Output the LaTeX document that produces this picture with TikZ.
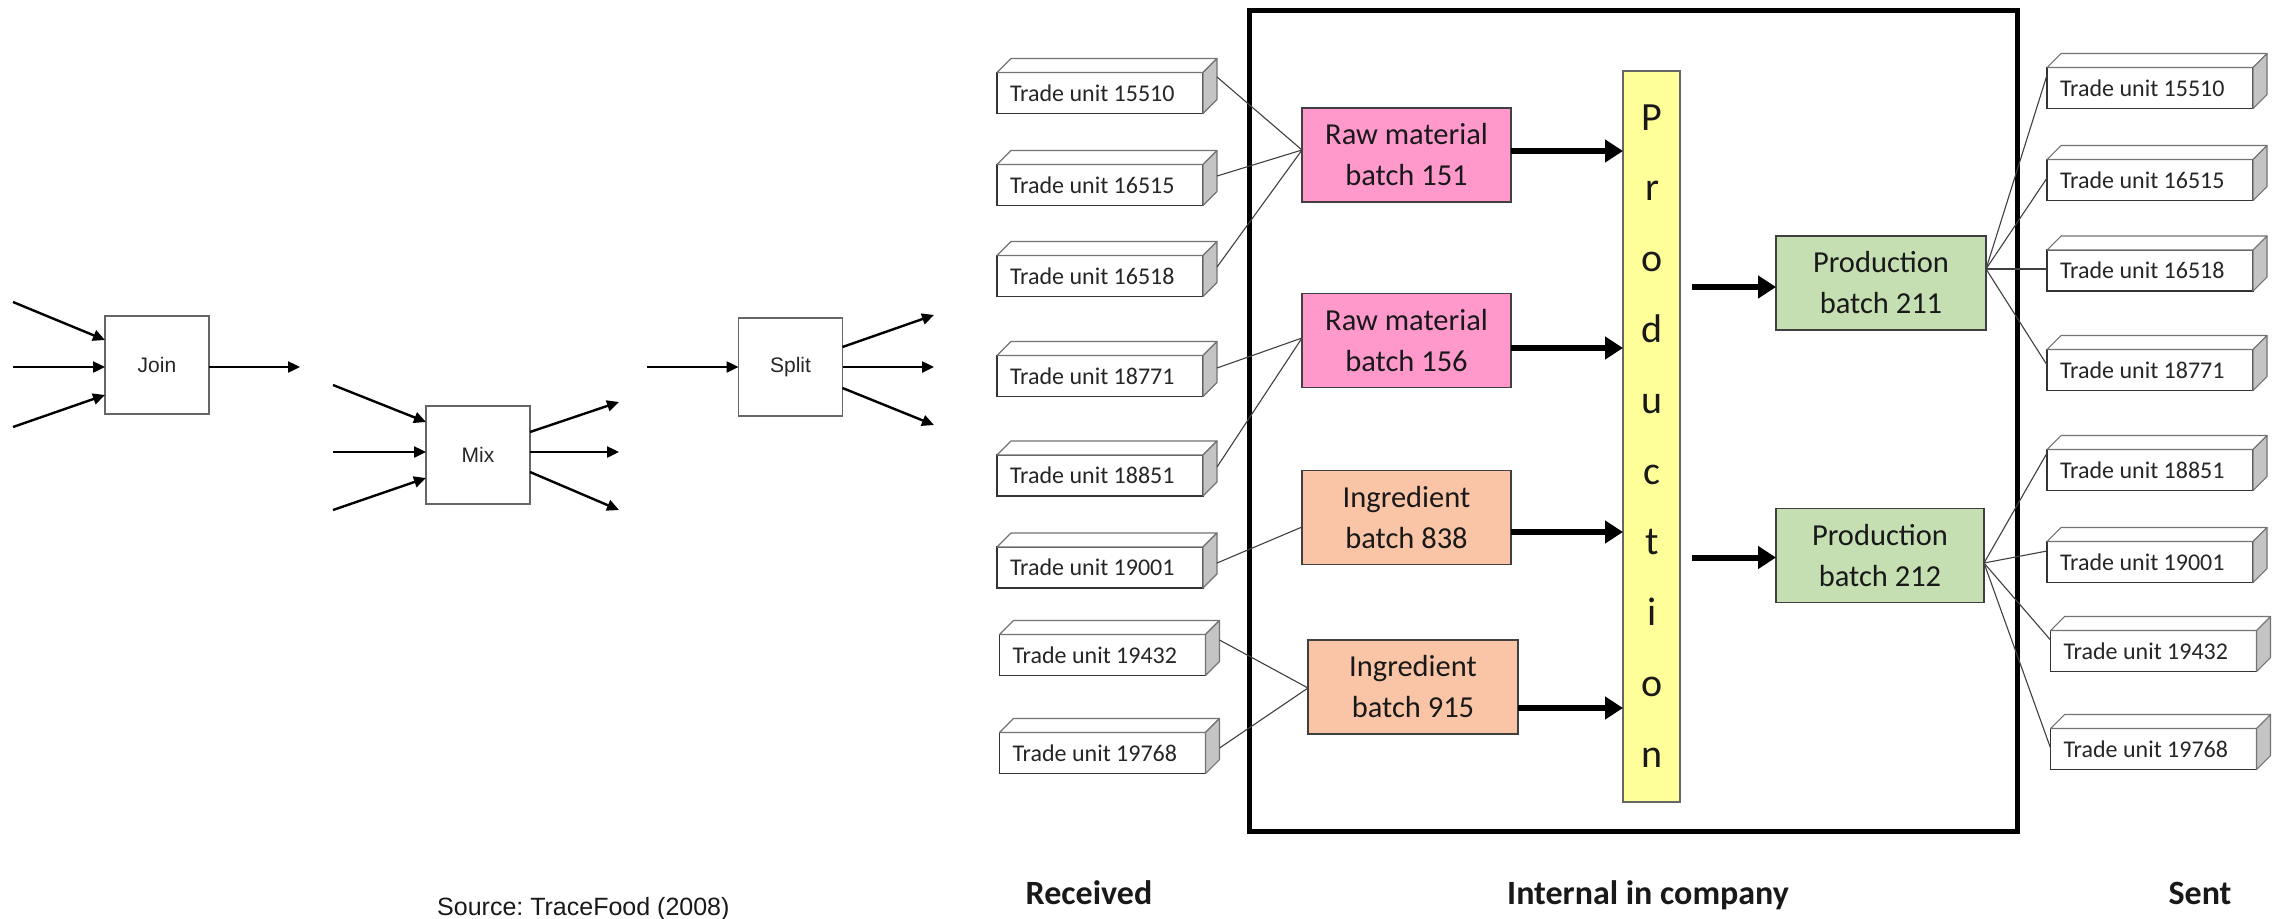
\documentclass[tikz,border=0pt]{standalone}
\usepackage{fontspec}
\setmainfont{Carlito}
\newfontfamily\arialf{Liberation Sans}
\usetikzlibrary{arrows.meta,calc}
\definecolor{pinkfill}{HTML}{FF99CC}
\definecolor{peachfill}{HTML}{F9C5A6}
\definecolor{greenfill}{HTML}{C5DFB2}
\definecolor{barfill}{HTML}{FFFF99}
\definecolor{sidegray}{HTML}{C4C4C4}
\frenchspacing
\newcommand\TUbox[4]{%
  \node[tubox] (#1) at (#2,#3) {\makebox[180pt][l]{Trade unit #4}};
  \draw[topface] (#1.north west) -- ++(14,-14) -- ++(206,0) -- (#1.north east) -- cycle;
  \draw[sideface] (#1.north east) -- ++(14,-14) -- ++(0,41) -- (#1.south east) -- cycle;
}
\begin{document}
\begin{tikzpicture}[x=1pt,y=-1pt,
  flowbox/.style={draw=black!60, line width=1.4pt, fill=white, minimum width=104pt, minimum height=98pt, inner sep=0pt, outer sep=0pt, font=\arialf\fontsize{21}{25}\selectfont, text=black!85},
  flowarrow/.style={line width=2.4pt, -{Triangle[length=12pt,width=11pt]}},
  tubox/.style={draw=black!80, line width=1.3pt, fill=white, minimum height=41pt, minimum width=206pt, inner sep=0pt, outer sep=0pt, font=\fontsize{24}{28}\selectfont, text=black!85},
  topface/.style={draw=black!55, line width=1.1pt, fill=white, line join=round},
  sideface/.style={topface, fill=sidegray},
  batch/.style={draw=black!75, line width=1.3pt, minimum width=209pt, minimum height=94pt, inner sep=0pt, outer sep=0pt, align=center, font=\fontsize{30.5}{41}\selectfont, text=black!90},
  tuline/.style={draw=black!75, line width=1.1pt},
  bigarrow/.style={line width=6pt, -{Triangle[length=18pt,width=22pt]}},
  barletter/.style={font=\fontsize{40}{46}\selectfont, inner sep=0pt, anchor=base, text=black!90},
  colhead/.style={font=\bfseries\fontsize{34}{40}\selectfont, anchor=base, inner sep=0pt, text=black!90}
]
\fill[white] (0,0) rectangle (2285,918);
\useasboundingbox (0,0) rectangle (2285,918);

% ---------- left: join / mix / split ----------
\node[flowbox] (join) at (157,365) {Join};
\node[flowbox] (mix) at (478,455) {Mix};
\node[flowbox] (split) at (790.5,367) {Split};

\coordinate (j1) at (13,302);
\coordinate (j2) at (13,367);
\coordinate (j3) at (13,427);
\coordinate (jo) at (300,367);
\draw[flowarrow] (j1) -- ([yshift=25pt]join.west);
\draw[flowarrow] (j2) -- ([yshift=-2pt]join.west);
\draw[flowarrow] (j3) -- ([yshift=-30pt]join.west);
\draw[flowarrow] ([yshift=-2pt]join.east) -- (jo);

\coordinate (m1) at (333,385);
\coordinate (m2) at (333,452);
\coordinate (m3) at (333,510);
\coordinate (mo1) at (619,402);
\coordinate (mo2) at (619,452);
\coordinate (mo3) at (619,510);
\draw[flowarrow] (m1) -- ([yshift=33pt]mix.west);
\draw[flowarrow] (m2) -- ([yshift=3pt]mix.west);
\draw[flowarrow] (m3) -- ([yshift=-23pt]mix.west);
\draw[flowarrow] ([yshift=23pt]mix.east) -- (mo1);
\draw[flowarrow] ([yshift=3pt]mix.east) -- (mo2);
\draw[flowarrow] ([yshift=-17pt]mix.east) -- (mo3);

\coordinate (s0) at (647,367);
\coordinate (so1) at (934,315);
\coordinate (so2) at (934,367);
\coordinate (so3) at (934,425);
\draw[flowarrow] (s0) -- (split.west);
\draw[flowarrow] ([yshift=20pt]split.east) -- (so1);
\draw[flowarrow] (split.east) -- (so2);
\draw[flowarrow] ([yshift=-21pt]split.east) -- (so3);

% ---------- company frame ----------
\node[draw=black, line width=5pt, minimum width=768pt, minimum height=821pt, inner sep=0pt, outer sep=0pt] (company) at (1633,420.5) {};

% ---------- batches and production bar ----------
\node[batch, fill=pinkfill] (raw151) at (1406.5,155) {Raw material\\batch 151};
\node[batch, fill=pinkfill] (raw156) at (1406.5,340.5) {Raw material\\batch 156};
\node[batch, fill=peachfill] (ing838) at (1406.5,517.5) {Ingredient\\batch 838};
\node[batch, fill=peachfill, minimum width=210pt] (ing915) at (1413,687) {Ingredient\\batch 915};
\node[batch, fill=greenfill, minimum width=210pt] (prod211) at (1881,283) {Production\\batch 211};
\node[batch, fill=greenfill, minimum width=208pt] (prod212) at (1880,555.5) {Production\\batch 212};

\node[draw=black!60, line width=1.2pt, fill=barfill, minimum width=57pt, minimum height=731pt, inner sep=0pt, outer sep=0pt] (bar) at (1651.5,436.5) {};
\foreach \ch [count=\i from 0] in {P,r,o,d,u,c,t,i,o,n}
  \node[barletter] (pl\i) at (1652,130+70.8*\i) {\ch};

% ---------- trade units ----------
\TUbox{L1}{1100}{93}{15510}
\TUbox{L2}{1100}{185}{16515}
\TUbox{L3}{1100}{276}{16518}
\TUbox{L4}{1100}{376}{18771}
\TUbox{L5}{1100}{475.5}{18851}
\TUbox{L6}{1100}{567.5}{19001}
\TUbox{L7}{1102.5}{655}{19432}
\TUbox{L8}{1102.5}{753}{19768}

\TUbox{R1}{2150}{88}{15510}
\TUbox{R2}{2150}{180}{16515}
\TUbox{R3}{2150}{270.5}{16518}
\TUbox{R4}{2150}{370}{18771}
\TUbox{R5}{2150}{470}{18851}
\TUbox{R6}{2150}{562}{19001}
\TUbox{R7}{2153.5}{651}{19432}
\TUbox{R8}{2153.5}{749}{19768}

% ---------- thin connectors ----------
\draw[tuline] ([shift={(14,-16)}]L1.east) -- ([yshift=5pt]raw151.west);
\draw[tuline] ([shift={(14,-9)}]L2.east) -- ([yshift=5pt]raw151.west);
\draw[tuline] ([shift={(14,-9)}]L3.east) -- ([yshift=5pt]raw151.west);
\draw[tuline] ([shift={(14,-8)}]L4.east) -- ([yshift=2.5pt]raw156.west);
\draw[tuline] ([shift={(14,-8.5)}]L5.east) -- ([yshift=2.5pt]raw156.west);
\draw[tuline] ([shift={(14,-4.5)}]L6.east) -- ([yshift=-9.5pt]ing838.west);
\draw[tuline] ([shift={(14,-15)}]L7.east) -- ([yshift=-1pt]ing915.west);
\draw[tuline] ([shift={(14,-5)}]L8.east) -- ([yshift=-1pt]ing915.west);

\draw[tuline] ([yshift=14pt]prod211.east) -- ([yshift=13pt]R1.west);
\draw[tuline] ([yshift=14pt]prod211.east) -- ([yshift=2pt]R2.west);
\draw[tuline] ([yshift=14pt]prod211.east) -- ([yshift=1.5pt]R3.west);
\draw[tuline] ([yshift=14pt]prod211.east) -- ([yshift=5pt]R4.west);
\draw[tuline] ([yshift=-7.5pt]prod212.east) -- ([yshift=17pt]R5.west);
\draw[tuline] ([yshift=-7.5pt]prod212.east) -- ([yshift=11pt]R6.west);
\draw[tuline] ([yshift=-7.5pt]prod212.east) -- ([yshift=11pt]R7.west);
\draw[tuline] ([yshift=-7.5pt]prod212.east) -- ([yshift=1pt]R8.west);

% ---------- thick arrows ----------
\path ([yshift=4pt]raw151.east) coordinate (a151);
\path ([yshift=-7.5pt]raw156.east) coordinate (a156);
\path ([yshift=-14.5pt]ing838.east) coordinate (a838);
\path ([yshift=-21pt]ing915.east) coordinate (a915);
\draw[bigarrow] (a151) -- (a151 -| bar.west);
\draw[bigarrow] (a156) -- (a156 -| bar.west);
\draw[bigarrow] (a838) -- (a838 -| bar.west);
\draw[bigarrow] (a915) -- (a915 -| bar.west);
\path ([yshift=-4pt]prod211.west) coordinate (b211);
\path ([yshift=-2pt]prod212.west) coordinate (b212);
\path (b211 -| bar.east) ++(12,0) coordinate (s211);
\path (b212 -| bar.east) ++(12,0) coordinate (s212);
\draw[bigarrow] (s211) -- (b211);
\draw[bigarrow] (s212) -- (b212);

% ---------- bottom labels ----------
\node[colhead] (recv) at (1089,904) {Received};
\node[colhead] (intl) at (1648,904) {Internal in company};
\node[colhead] (sent) at (2200,904) {Sent};
\node[font=\arialf\fontsize{25}{30}\selectfont, anchor=base west, inner sep=0pt, text=black!90] (src) at (437,915) {Source: TraceFood (2008)};
\end{tikzpicture}
\end{document}
